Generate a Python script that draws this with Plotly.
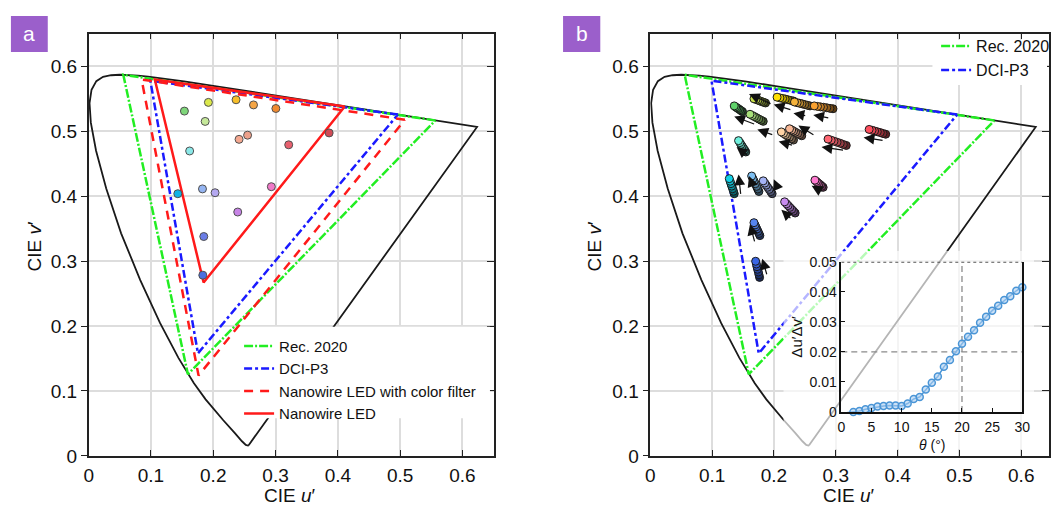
import plotly.graph_objects as go

# ---------------- data ----------------
# CIE 1976 spectral locus (u', v'), 380 nm ... 700 nm, closed by the line of purples
locus_u = [0.2568, 0.2557, 0.2522, 0.2461, 0.2347, 0.2161, 0.1877, 0.1690, 0.1441, 0.1147,
           0.0828, 0.0521, 0.0282, 0.0119, 0.0035, 0.0014, 0.0046, 0.0123, 0.0231, 0.0360,
           0.0501, 0.0643, 0.0792, 0.0953, 0.1127, 0.1319, 0.1531, 0.2026, 0.2623, 0.3315,
           0.4035, 0.4692, 0.5203, 0.5565, 0.5830, 0.6005, 0.6234, 0.2568]
locus_v = [0.0166, 0.0159, 0.0169, 0.0226, 0.0350, 0.0549, 0.0871, 0.1119, 0.1510, 0.2044,
           0.2708, 0.3427, 0.4117, 0.4698, 0.5131, 0.5432, 0.5638, 0.5770, 0.5837, 0.5861,
           0.5868, 0.5865, 0.5856, 0.5841, 0.5821, 0.5796, 0.5766, 0.5694, 0.5604, 0.5501,
           0.5393, 0.5296, 0.5219, 0.5165, 0.5125, 0.5099, 0.5065, 0.0166]

rec2020_u = [0.5566, 0.0556, 0.1593, 0.5566]
rec2020_v = [0.5165, 0.5868, 0.1258, 0.5165]
p3_u = [0.4964, 0.0990, 0.1754, 0.4964]
p3_v = [0.5256, 0.5777, 0.1579, 0.5256]
nwcf_u = [0.5076, 0.0850, 0.1764, 0.5076]
nwcf_v = [0.5175, 0.5795, 0.1238, 0.5175]
nw_u = [0.4110, 0.1062, 0.1845, 0.4110]
nw_v = [0.5380, 0.5795, 0.2670, 0.5380]

# panel a measured colour points
pts_u = [0.1537, 0.1922, 0.2366, 0.2646, 0.3005, 0.1870, 0.2414, 0.2551, 0.3211,
         0.3860, 0.1621, 0.1431, 0.1827, 0.2029, 0.2932, 0.2393, 0.1848, 0.1832]
pts_v = [0.5309, 0.5443, 0.5483, 0.5404, 0.5349, 0.5150, 0.4874, 0.4938, 0.4790,
         0.4973, 0.4695, 0.4037, 0.4111, 0.4052, 0.4145, 0.3755, 0.3378, 0.2783]
pts_colors = ["#7fd67a", "#dbe84a", "#f7bf2a", "#f5a545", "#f08a30", "#c5e89a",
              "#f5a890", "#eda08a", "#e8606e", "#d04a55", "#8ae8e8", "#12b4e6",
              "#95b5f2", "#b4a8f0", "#f07ac8", "#c784e6", "#6a7de6", "#4a6ee0"]

# panel b angle-dependent trails (bright end first)
trail_u = [
    [0.1677, 0.1711, 0.1742, 0.1770, 0.1801, 0.1834, 0.1864],
    [0.2051, 0.2097, 0.2140, 0.2182, 0.2226, 0.2273, 0.2316],
    [0.2332, 0.2376, 0.2417, 0.2456, 0.2498, 0.2542, 0.2583],
    [0.2652, 0.2705, 0.2752, 0.2802, 0.2855, 0.2906, 0.2955],
    [0.1358, 0.1381, 0.1402, 0.1424, 0.1448, 0.1471, 0.1492],
    [0.1613, 0.1651, 0.1685, 0.1718, 0.1755, 0.1792, 0.1827],
    [0.2120, 0.2155, 0.2186, 0.2216, 0.2250, 0.2284, 0.2316],
    [0.2252, 0.2287, 0.2317, 0.2349, 0.2385, 0.2418, 0.2450],
    [0.2875, 0.2926, 0.2972, 0.3021, 0.3073, 0.3122, 0.3170],
    [0.3540, 0.3587, 0.3628, 0.3672, 0.3720, 0.3764, 0.3808],
    [0.1428, 0.1449, 0.1467, 0.1486, 0.1507, 0.1527, 0.1545],
    [0.1278, 0.1292, 0.1304, 0.1317, 0.1332, 0.1346, 0.1358],
    [0.1640, 0.1661, 0.1679, 0.1698, 0.1719, 0.1739, 0.1757],
    [0.1827, 0.1852, 0.1874, 0.1898, 0.1924, 0.1948, 0.1971],
    [0.2663, 0.2686, 0.2706, 0.2729, 0.2753, 0.2775, 0.2796],
    [0.2173, 0.2203, 0.2229, 0.2257, 0.2287, 0.2316, 0.2343],
    [0.1677, 0.1694, 0.1708, 0.1724, 0.1742, 0.1758, 0.1773],
    [0.1704, 0.1716, 0.1725, 0.1735, 0.1748, 0.1758, 0.1768],
]
trail_v = [
    [0.5498, 0.5487, 0.5477, 0.5467, 0.5455, 0.5444, 0.5434],
    [0.5523, 0.5512, 0.5503, 0.5495, 0.5484, 0.5473, 0.5464],
    [0.5449, 0.5438, 0.5429, 0.5420, 0.5409, 0.5398, 0.5389],
    [0.5389, 0.5381, 0.5374, 0.5368, 0.5360, 0.5351, 0.5345],
    [0.5389, 0.5373, 0.5359, 0.5346, 0.5330, 0.5314, 0.5300],
    [0.5260, 0.5241, 0.5224, 0.5207, 0.5187, 0.5168, 0.5151],
    [0.4988, 0.4966, 0.4946, 0.4927, 0.4905, 0.4883, 0.4863],
    [0.5037, 0.5018, 0.5001, 0.4984, 0.4965, 0.4946, 0.4929],
    [0.4878, 0.4861, 0.4845, 0.4830, 0.4813, 0.4795, 0.4780],
    [0.5027, 0.5014, 0.5002, 0.4991, 0.4978, 0.4964, 0.4953],
    [0.4854, 0.4824, 0.4796, 0.4768, 0.4738, 0.4708, 0.4680],
    [0.4269, 0.4229, 0.4192, 0.4154, 0.4114, 0.4075, 0.4037],
    [0.4309, 0.4268, 0.4230, 0.4191, 0.4150, 0.4110, 0.4071],
    [0.4235, 0.4201, 0.4169, 0.4137, 0.4103, 0.4069, 0.4037],
    [0.4245, 0.4226, 0.4208, 0.4191, 0.4172, 0.4152, 0.4135],
    [0.3912, 0.3882, 0.3855, 0.3827, 0.3797, 0.3768, 0.3740],
    [0.3591, 0.3557, 0.3525, 0.3493, 0.3458, 0.3424, 0.3392],
    [0.2997, 0.2955, 0.2914, 0.2874, 0.2832, 0.2789, 0.2749],
]
trail_colors = ["#c9e04a", "#ffe000", "#f5b23a", "#f8a030", "#5fd36a", "#a8e07a",
                "#ffd3a5", "#f8b896", "#ff6673", "#ff4f5e", "#6ff0dc", "#12d0e6",
                "#7ec0f2", "#a5b4f5", "#ff7ad0", "#c98cf0", "#5585f0", "#3a66e6"]

# arrows (tail -> head) in panel b
arrow_tail_u = [0.1970, 0.2290, 0.2530, 0.2903, 0.1704, 0.1997, 0.2663, 0.2316, 0.3142,
                0.3781, 0.1597, 0.1465, 0.1704, 0.2077, 0.2796, 0.2291, 0.1693, 0.1891]
arrow_tail_v = [0.5413, 0.5324, 0.5235, 0.5200, 0.5101, 0.4938, 0.4929, 0.4780, 0.4706,
                0.4854, 0.4606, 0.4012, 0.4037, 0.4086, 0.4061, 0.3640, 0.3279, 0.2774]
arrow_head_u = [0.1597, 0.1997, 0.2316, 0.2636, 0.1358, 0.1732, 0.2396, 0.2077, 0.2770,
                0.3450, 0.1396, 0.1428, 0.1597, 0.1997, 0.2610, 0.2120, 0.1613, 0.1811]
arrow_head_v = [0.5572, 0.5409, 0.5275, 0.5250, 0.5226, 0.5027, 0.5086, 0.4840, 0.4755,
                0.4903, 0.4755, 0.4334, 0.4309, 0.4260, 0.4160, 0.3789, 0.3566, 0.3036]

# inset: colour shift vs viewing angle
theta = list(range(0, 31))
delta_uv = [-0.0005, -0.0003, 0.0000, 0.0003, 0.0009, 0.0013, 0.0018, 0.0020, 0.0021,
            0.0021, 0.0020, 0.0028, 0.0043, 0.0050, 0.0075, 0.0097, 0.0118, 0.0150,
            0.0173, 0.0202, 0.0227, 0.0250, 0.0272, 0.0297, 0.0317, 0.0337, 0.0353,
            0.0372, 0.0385, 0.0403, 0.0415]

axis_ticks = [0, 0.1, 0.2, 0.3, 0.4, 0.5, 0.6]
axis_ticktext = ["0", "0.1", "0.2", "0.3", "0.4", "0.5", "0.6"]
inset_xticks = [0, 5, 10, 15, 20, 25, 30]
inset_yticks = [0, 0.01, 0.02, 0.03, 0.04, 0.05]
inset_yticktext = ["0", "0.01", "0.02", "0.03", "0.04", "0.05"]

# ---------------- styling helpers ----------------
FONT = "Liberation Sans, Arial, sans-serif"
W, H = 1057, 518


def px_x(p):
    return p / W


def px_y(p):
    return (H - p) / H


def shade(hexc, f):
    h = hexc.lstrip("#")
    r, g, b = int(h[0:2], 16), int(h[2:4], 16), int(h[4:6], 16)
    return "rgb(%d,%d,%d)" % (r * (1 - f), g * (1 - f), b * (1 - f))


GREEN = "#22ee22"
BLUE = "#1a1aff"
RED = "#ff1a1a"

fig = go.Figure()

for xa, ya, leg, show_nw in [("x", "y", "legend", True), ("x2", "y2", "legend2", False)]:
    fig.add_trace(go.Scatter(x=locus_u, y=locus_v, mode="lines", xaxis=xa, yaxis=ya,
                             line=dict(color="#1a1a1a", width=1.8), showlegend=False,
                             hoverinfo="skip"))
    fig.add_trace(go.Scatter(x=rec2020_u, y=rec2020_v, mode="lines", xaxis=xa, yaxis=ya,
                             name="Rec. 2020", legend=leg,
                             line=dict(color=GREEN, width=2.5, dash="9px,2px,2px,2px")))
    fig.add_trace(go.Scatter(x=p3_u, y=p3_v, mode="lines", xaxis=xa, yaxis=ya,
                             name="DCI-P3", legend=leg,
                             line=dict(color=BLUE, width=2.5, dash="8px,3px,3px,3px")))
    if show_nw:
        fig.add_trace(go.Scatter(x=nwcf_u, y=nwcf_v, mode="lines", xaxis=xa, yaxis=ya,
                                 name="Nanowire LED with color filter", legend=leg,
                                 line=dict(color=RED, width=2.5, dash="9px,7px")))
        fig.add_trace(go.Scatter(x=nw_u, y=nw_v, mode="lines", xaxis=xa, yaxis=ya,
                                 name="Nanowire LED", legend=leg,
                                 line=dict(color=RED, width=2.5)))

# right-hand inside tick marks for both panels (empty helper traces)
fig.add_trace(go.Scatter(x=[], y=[], xaxis="x", yaxis="y5", showlegend=False))
fig.add_trace(go.Scatter(x=[], y=[], xaxis="x2", yaxis="y6", showlegend=False))

# panel a points
fig.add_trace(go.Scatter(x=pts_u, y=pts_v, mode="markers", xaxis="x", yaxis="y",
                         showlegend=False,
                         marker=dict(size=8, color=pts_colors,
                                     line=dict(color="#505050", width=1))))

# panel b trails (dark end drawn first, bright end on top)
for tu, tv, c in zip(trail_u, trail_v, trail_colors):
    n = len(tu)
    cols = [shade(c, 0.62 * i / (n - 1)) for i in range(n)]
    fig.add_trace(go.Scatter(x=tu[::-1], y=tv[::-1], mode="markers", xaxis="x2", yaxis="y2",
                             showlegend=False,
                             marker=dict(size=8, color=cols[::-1],
                                         line=dict(color="#1a1a1a", width=1))))

# mask subplot (semi-transparent veil behind the inset)
fig.add_trace(go.Scatter(x=[], y=[], xaxis="x3", yaxis="y3", showlegend=False))

# inset
fig.add_trace(go.Scatter(x=[0, 30], y=[0.05, 0.05], mode="lines", xaxis="x4", yaxis="y4",
                         showlegend=False, line=dict(color="#555555", width=2, dash="dot")))
fig.add_trace(go.Scatter(x=[0, 30], y=[0.02, 0.02], mode="lines", xaxis="x4", yaxis="y4",
                         showlegend=False, line=dict(color="#8a8a8a", width=1.3, dash="6px,4px")))
fig.add_trace(go.Scatter(x=[20, 20], y=[0, 0.05], mode="lines", xaxis="x4", yaxis="y4",
                         showlegend=False, line=dict(color="#8a8a8a", width=1.3, dash="6px,4px")))
fig.add_trace(go.Scatter(x=theta, y=delta_uv, mode="lines+markers", xaxis="x4", yaxis="y4",
                         showlegend=False, cliponaxis=False,
                         line=dict(color="#4a95d6", width=1.5),
                         marker=dict(size=7, color="rgba(170,205,240,0.6)",
                                     line=dict(color="#4a95d6", width=1.5))))

main_x = dict(range=[0, 0.65], tickvals=axis_ticks, ticktext=axis_ticktext,
              showgrid=True, gridcolor="#dddddd", gridwidth=1.5, zeroline=False,
              showline=True, linecolor="#222222", linewidth=1.5, mirror="ticks",
              ticks="inside", ticklen=6, tickcolor="#222222",
              tickfont=dict(family=FONT, size=19, color="#111111"), ticklabelstandoff=2)
main_y = dict(range=[0, 0.65], tickvals=axis_ticks, ticktext=axis_ticktext,
              showgrid=True, gridcolor="#dddddd", gridwidth=1.5, zeroline=False,
              showline=True, linecolor="#222222", linewidth=1.5, mirror=True,
              ticks="outside", ticklen=6, tickcolor="#222222",
              tickfont=dict(family=FONT, size=19, color="#111111"))
right_y = dict(range=[0, 0.65], tickvals=axis_ticks, side="right", showgrid=False,
               zeroline=False, showline=False, showticklabels=False,
               ticks="inside", ticklen=7, tickcolor="#222222")

xb = dict(main_x)
xb["range"] = [0, (W - 653.3) / 626]

layout = dict(
    width=W, height=H, margin=dict(l=0, r=0, t=0, b=0),
    paper_bgcolor="white", plot_bgcolor="rgba(0,0,0,0)",
    font=dict(family=FONT, color="#111111"),
    xaxis=dict(main_x, domain=[px_x(84.7), px_x(494.7)], anchor="y"),
    yaxis=dict(main_y, domain=[px_y(465), px_y(26.7)], anchor="x"),
    yaxis5=dict(right_y, overlaying="y", anchor="x"),
    xaxis2=dict(xb, domain=[px_x(653.3), 1.0], anchor="y2"),
    yaxis2=dict(main_y, domain=[px_y(465), px_y(26.7)], anchor="x2"),
    yaxis6=dict(right_y, overlaying="y2", anchor="x2"),
    xaxis3=dict(domain=[px_x(788), px_x(1042)], range=[0, 1], visible=False, anchor="y3"),
    yaxis3=dict(domain=[px_y(458), px_y(252)], range=[0, 1], visible=False, anchor="x3"),
    xaxis4=dict(domain=[px_x(846.7), px_x(1030)], range=[0, 30], anchor="y4",
                tickvals=inset_xticks, showgrid=False, zeroline=False,
                showline=True, linecolor="#111111", linewidth=1.5, mirror=False,
                ticks="inside", ticklen=4, tickcolor="#111111",
                tickfont=dict(family=FONT, size=14, color="#111111"), ticklabelstandoff=2),
    yaxis4=dict(domain=[px_y(419.3), px_y(263.3)], range=[0, 0.05], anchor="x4",
                tickvals=inset_yticks, ticktext=inset_yticktext, showgrid=False,
                zeroline=False, showline=True, linecolor="#111111", linewidth=1.5,
                mirror=True, ticks="inside", ticklen=4, tickcolor="#111111",
                tickfont=dict(family=FONT, size=14, color="#111111")),
    legend=dict(x=px_x(237), y=px_y(334), xanchor="left", yanchor="top",
                bgcolor="rgba(0,0,0,0)", borderwidth=0, tracegroupgap=0,
                font=dict(family=FONT, size=15, color="#111111")),
    legend2=dict(x=px_x(942.7), y=px_y(22), xanchor="left", yanchor="top",
                 bgcolor="rgba(0,0,0,0)", borderwidth=0, tracegroupgap=0,
                 font=dict(family=FONT, size=16, color="#111111")),
    showlegend=True,
)
fig.update_layout(**layout)

shapes = [
    dict(type="rect", xref="x3", yref="y3", x0=0, x1=1, y0=0, y1=1,
         fillcolor="rgba(255,255,255,0.68)", line=dict(width=0), layer="below"),
    # white backing of the two legends
    dict(type="rect", xref="paper", yref="paper", x0=px_x(238), x1=px_x(491),
         y0=px_y(426), y1=px_y(331), fillcolor="white", line=dict(width=0), layer="above"),
    dict(type="rect", xref="paper", yref="paper", x0=px_x(939), x1=px_x(1055),
         y0=px_y(80), y1=px_y(33), fillcolor="white", line=dict(width=0), layer="above"),
    # panel label boxes
    dict(type="rect", xref="paper", yref="paper", x0=px_x(6), x1=px_x(43.3),
         y0=px_y(45.7), y1=px_y(8.3), fillcolor="#9b5fcb", line=dict(width=0)),
    dict(type="rect", xref="paper", yref="paper", x0=px_x(565), x1=px_x(602.7),
         y0=px_y(45.7), y1=px_y(8.3), fillcolor="#9b5fcb", line=dict(width=0)),
]
fig.update_layout(shapes=shapes)


def note(text, x, y, size, angle=0, color="#111111"):
    return dict(text=text, x=px_x(x), y=px_y(y), xref="paper", yref="paper",
                xanchor="center", yanchor="middle", showarrow=False, textangle=angle,
                font=dict(family=FONT, size=size, color=color))


annotations = [
    note("a", 24.6, 26, 21, color="white"),
    note("b", 583.8, 26, 21, color="white"),
    note("CIE <i>u</i>′", 289, 506, 19),
    note("CIE <i>u</i>′", 855, 506, 19),
    note("CIE <i>v</i>′", 30, 248, 19, angle=-90),
    note("CIE <i>v</i>′", 597, 248, 19, angle=-90),
    note("<i>θ</i> (°)", 939, 454, 14),
    note("Δu′Δv′", 801, 341, 15, angle=-90),
]
for tu, tv, hu, hv in zip(arrow_tail_u, arrow_tail_v, arrow_head_u, arrow_head_v):
    annotations.append(dict(x=hu, y=hv, ax=tu, ay=tv, xref="x2", yref="y2",
                            axref="x2", ayref="y2", text="", showarrow=True,
                            arrowhead=2, arrowsize=1.8, arrowwidth=1.2,
                            arrowcolor="#111111", standoff=0, startstandoff=0))
fig.update_layout(annotations=annotations)

fig.write_html(
    "out.html",
    post_script="document.body.style.margin='0px';document.body.style.padding='0px';",
)
